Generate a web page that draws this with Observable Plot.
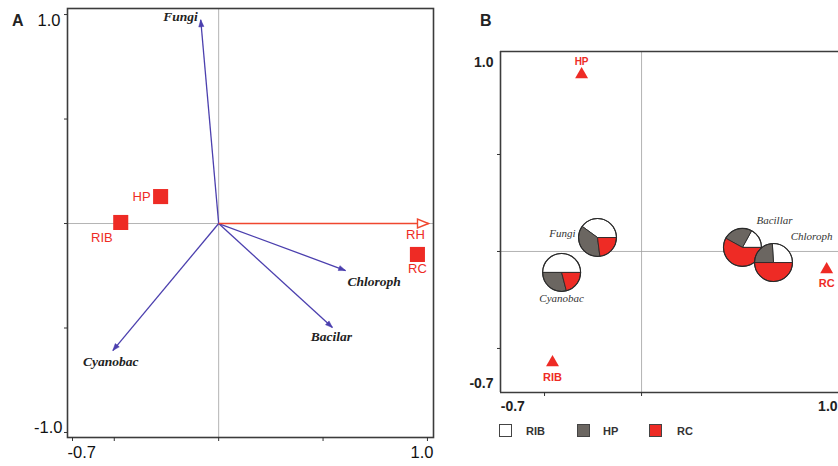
<!DOCTYPE html>
<html><head><meta charset="utf-8">
<script src="https://cdn.jsdelivr.net/npm/d3@7"></script>
<script src="https://cdn.jsdelivr.net/npm/@observablehq/plot@0.6"></script>
<style>
html,body{margin:0;padding:0;background:#fff;overflow:hidden}
#wrap{position:relative;width:838px;height:466px;overflow:hidden;font-family:"Liberation Sans",Arial,sans-serif}
#pa{position:absolute;left:0;top:0;width:440px;height:466px}
#pb{position:absolute;left:440px;top:0;width:398px;height:466px;overflow:hidden}
.panel{position:absolute;font-size:16px;font-weight:bold;line-height:16px;color:#222}
.sw{position:absolute;width:13px;height:13px;border:1px solid #444;box-sizing:border-box}
.lt{position:absolute;font-size:11px;font-weight:bold;color:#333;line-height:12px}
</style></head><body>
<div id="wrap">
  <div id="pa"></div>
  <div id="pb"></div>
  <div class="panel" style="left:12px;top:13px">A</div>
  <div class="panel" style="left:480px;top:13px">B</div>
  <div id="legend"></div>
</div>
<script>
// ---------- Panel A data ----------
const aSites = ["HP", "RIB", "RC"];
const aSiteX = [-0.278, -0.469, 0.952];
const aSiteY = [0.129, 0.005, -0.148];
const aVars = ["Fungi", "Cyanobac", "Chloroph", "Bacilar"];
const aVarX = [-0.086, -0.507, 0.608, 0.545];
const aVarY = [0.975, -0.608, -0.225, -0.498];
const aEnv = ["RH"];
const aEnvX = [1.005];
const aEnvY = [0.0];
const aXTicks = [-0.7, -0.5, 0, 0.5, 1.0];
const aYTicks = [-1.0, -0.5, 0, 0.5, 1.0];
const aXLabels = [-0.7, 1.0];
const aYLabels = [1.0, -1.0];

// ---------- Panel B data ----------
const bSites = ["HP", "RIB", "RC"];
const bSiteX = [-0.309, -0.459, 0.954];
const bSiteY = [0.912, -0.572, -0.093];
const bPies = ["Fungi", "Cyanobac", "Bacillar", "Chloroph"];
const bPieX = [-0.227, -0.412, 0.52, 0.68];
const bPieY = [0.072, -0.108, 0.021, -0.057];
const groups = ["RIB", "HP", "RC"];
const pieRIB = [0.40, 0.50, 0.17, 0.26];
const pieHP  = [0.37, 0.29, 0.25, 0.24];
const pieRC  = [0.23, 0.21, 0.58, 0.50];
const bXTicks = [-0.5, 0];
const bYTicks = [-0.5, 0, 0.5];
const bXLabels = [-0.7, 1.0];
const bYLabels = [1.0, -0.7];

const RED = "#ee2b25", BLUE = "#4b3fae", RHRED = "#f0472f", GRAY = "#6b6661";
const groupColors = ["#ffffff", GRAY, RED];
const fmt = d => d.toFixed(1);
const SERIF = "Liberation Serif, Times New Roman, serif";

// arrow head symbol (triangle pointing along angle)
function headSymbol(theta, L, w) {
  return {
    draw(ctx) {
      const c = Math.cos(theta), s = Math.sin(theta);
      const bx = -L * c, by = -L * s;
      ctx.moveTo(0, 0);
      ctx.lineTo(bx - w * s, by + w * c);
      ctx.lineTo(bx + w * s, by - w * c);
      ctx.closePath();
    }
  };
}
// pie wedge symbol, angles counter-clockwise from east
function wedgeSymbol(a0, a1) {
  return {
    draw(ctx, size) {
      const rr = Math.sqrt(size / Math.PI);
      ctx.moveTo(0, 0);
      ctx.arc(0, 0, rr, -a0, -a1, true);
      ctx.closePath();
    }
  };
}

// ---------- Panel A ----------
const aIdx = d3.range(aVars.length);
const aMarks = [
  Plot.ruleX([0], {stroke: "#a0a0a0", strokeWidth: 0.8}),
  Plot.ruleY([0], {stroke: "#a0a0a0", strokeWidth: 0.8}),
  Plot.frame({stroke: "#3c3c3c", strokeWidth: 1.6}),
  Plot.axisX({ticks: aXTicks, tickSize: 4, tickFormat: () => "", stroke: "#333"}),
  Plot.axisY({ticks: aYTicks, tickSize: 3, tickFormat: () => "", stroke: "#333"}),
  Plot.axisX({ticks: [aXLabels[0]], tickSize: 0, tickPadding: 9, tickFormat: fmt, textAnchor: "start", dx: -5, fontSize: 16.5, fill: "#111"}),
  Plot.axisX({ticks: [aXLabels[1]], tickSize: 0, tickPadding: 9, tickFormat: fmt, textAnchor: "end", dx: 6, fontSize: 16.5, fill: "#111"}),
  Plot.axisY({ticks: [aYLabels[0]], tickSize: 0, tickPadding: 7, tickFormat: fmt, dy: 6, fontSize: 16.5, fill: "#111"}),
  Plot.axisY({ticks: [aYLabels[1]], tickSize: 0, tickPadding: 5, tickFormat: fmt, dy: -5, fontSize: 16.5, fill: "#111"}),
  Plot.link(aIdx, {x1: () => 0, y1: () => 0, x2: i => aVarX[i], y2: i => aVarY[i], stroke: BLUE, strokeWidth: 1.3}),
  Plot.link([0], {x1: () => 0, y1: () => 0, x2: i => aEnvX[i], y2: i => aEnvY[i], stroke: RHRED, strokeWidth: 1.6})
];
aIdx.forEach(i => {
  const th = Math.atan2(-aVarY[i], aVarX[i]);
  aMarks.push(Plot.dot([i], {x: j => aVarX[j], y: j => aVarY[j], r: 5, symbol: headSymbol(th, 7, 2.6), fill: BLUE, stroke: BLUE, strokeWidth: 0.5}));
});
aMarks.push(Plot.dot([0], {x: j => aEnvX[j], y: j => aEnvY[j], r: 5, symbol: headSymbol(Math.atan2(-aEnvY[0], aEnvX[0]), 11, 4.5), fill: "white", stroke: RHRED, strokeWidth: 1.4}));
aMarks.push(Plot.dot(d3.range(aSites.length), {x: i => aSiteX[i], y: i => aSiteY[i], symbol: "square", r: 8.5, fill: RED}));
const aSiteOff = [{dx: -10, dy: 0, a: "end"}, {dx: -8, dy: 15, a: "end"}, {dx: 0, dy: 14, a: "middle"}];
aSiteOff.forEach((o, i) => aMarks.push(Plot.text([i], {x: j => aSiteX[j], y: j => aSiteY[j], text: j => aSites[j], dx: o.dx, dy: o.dy, textAnchor: o.a, fill: RED, fontSize: 13})));
aMarks.push(Plot.text([0], {x: j => aEnvX[j], y: j => aEnvY[j], text: j => aEnv[j], dx: -13, dy: 11, fill: RED, fontSize: 13}));
const aVarOff = [{dx: -3, dy: -3, a: "end"}, {dx: -2, dy: 11, a: "middle"}, {dx: 2, dy: 11, a: "start"}, {dx: -1, dy: 9, a: "middle"}];
aVarOff.forEach((o, i) => aMarks.push(Plot.text([i], {x: j => aVarX[j], y: j => aVarY[j], text: j => aVars[j], dx: o.dx, dy: o.dy, textAnchor: o.a, fontFamily: SERIF, fontStyle: "italic", fontWeight: "bold", fontSize: 13.5, fill: "#222"})));

const chartA = Plot.plot({
  width: 440, height: 466,
  marginLeft: 67, marginRight: 7, marginTop: 8, marginBottom: 29,
  x: {domain: [-0.724, 1.029]},
  y: {domain: [-1.024, 1.029]},
  style: {fontFamily: "Liberation Sans, Arial, sans-serif", background: "transparent", color: "#222"},
  marks: aMarks
});
document.getElementById("pa").appendChild(chartA);

// ---------- Panel B ----------
const bDomX = [-0.727, 1.015], bDomY = [-0.727, 1.031];
const bMarks = [
  Plot.ruleX([0], {stroke: "#a0a0a0", strokeWidth: 0.8}),
  Plot.ruleY([0], {stroke: "#a0a0a0", strokeWidth: 0.8}),
  Plot.ruleY([bDomY[1]], {stroke: "#3c3c3c", strokeWidth: 1.6}),
  Plot.ruleY([bDomY[0]], {stroke: "#3c3c3c", strokeWidth: 1.6}),
  Plot.ruleX([bDomX[0]], {stroke: "#3c3c3c", strokeWidth: 1.6}),
  Plot.axisX({ticks: bXTicks, tickSize: 4, tickFormat: () => "", stroke: "#333"}),
  Plot.axisY({ticks: bYTicks, tickSize: 3, tickFormat: () => "", stroke: "#333"}),
  Plot.axisX({ticks: [bXLabels[0]], tickSize: 0, tickPadding: 9, tickFormat: fmt, textAnchor: "start", dx: -5, fontSize: 14, fontWeight: "bold", fill: "#222"}),
  Plot.axisX({ticks: [bXLabels[1]], tickSize: 0, tickPadding: 9, tickFormat: fmt, textAnchor: "end", dx: 2, fontSize: 14, fontWeight: "bold", fill: "#222"}),
  Plot.axisY({ticks: [bYLabels[0]], tickSize: 0, tickPadding: 7, tickFormat: fmt, dy: 5, fontSize: 14, fontWeight: "bold", fill: "#222"}),
  Plot.axisY({ticks: [bYLabels[1]], tickSize: 0, tickPadding: 7, tickFormat: fmt, dy: -4, fontSize: 14, fontWeight: "bold", fill: "#222"}),
  Plot.dot(d3.range(bSites.length), {x: i => bSiteX[i], y: i => bSiteY[i], symbol: "triangle", r: 4.8, fill: RED})
];
const bSiteDy = [-13, 15, 14];
bSiteDy.forEach((dy, i) => bMarks.push(Plot.text([i], {x: j => bSiteX[j], y: j => bSiteY[j], text: j => bSites[j], dy, fill: RED, fontSize: i === 0 ? 10 : 11, fontWeight: "bold"})));
const pieVals = [pieRIB, pieHP, pieRC];
bPies.forEach((name, i) => {
  const tot = pieRIB[i] + pieHP[i] + pieRC[i];
  let a = 0;
  pieVals.forEach((vals, k) => {
    const a0 = a, a1 = a + vals[i] / tot * 2 * Math.PI;
    a = a1;
    bMarks.push(Plot.dot([i], {x: j => bPieX[j], y: j => bPieY[j], r: 19, symbol: wedgeSymbol(a0, a1), fill: groupColors[k], stroke: "#2a2a2a", strokeWidth: 0.9}));
  });
  bMarks.push(Plot.dot([i], {x: j => bPieX[j], y: j => bPieY[j], r: 19, fill: "none", stroke: "#2a2a2a", strokeWidth: 1.1}));
});
const bPieOff = [{dx: -22, dy: -4, a: "end"}, {dx: 0, dy: 26, a: "middle"}, {dx: 32, dy: -27, a: "middle"}, {dx: 38, dy: -26, a: "middle"}];
bPieOff.forEach((o, i) => bMarks.push(Plot.text([i], {x: j => bPieX[j], y: j => bPieY[j], text: j => bPies[j], dx: o.dx, dy: o.dy, textAnchor: o.a, fontFamily: SERIF, fontStyle: "italic", fontSize: 11, fill: "#333"})));

const chartB = Plot.plot({
  width: 398, height: 466,
  marginLeft: 60, marginRight: 0, marginTop: 51, marginBottom: 74,
  x: {domain: bDomX},
  y: {domain: bDomY},
  style: {fontFamily: "Liberation Sans, Arial, sans-serif", background: "transparent", color: "#222", overflow: "hidden"},
  marks: bMarks
});
document.getElementById("pb").appendChild(chartB);

// ---------- Legend (below panel B) ----------
const leg = document.getElementById("legend");
const swLeft = [499, 577, 649], txtLeft = [526, 603, 677];
groups.forEach((g, k) => {
  const s = document.createElement("div");
  s.className = "sw";
  s.style.left = swLeft[k] + "px"; s.style.top = "424px";
  s.style.background = groupColors[k];
  leg.appendChild(s);
  const t = document.createElement("div");
  t.className = "lt";
  t.style.left = txtLeft[k] + "px"; t.style.top = "425px";
  t.textContent = g;
  leg.appendChild(t);
});
</script>
</body></html>
